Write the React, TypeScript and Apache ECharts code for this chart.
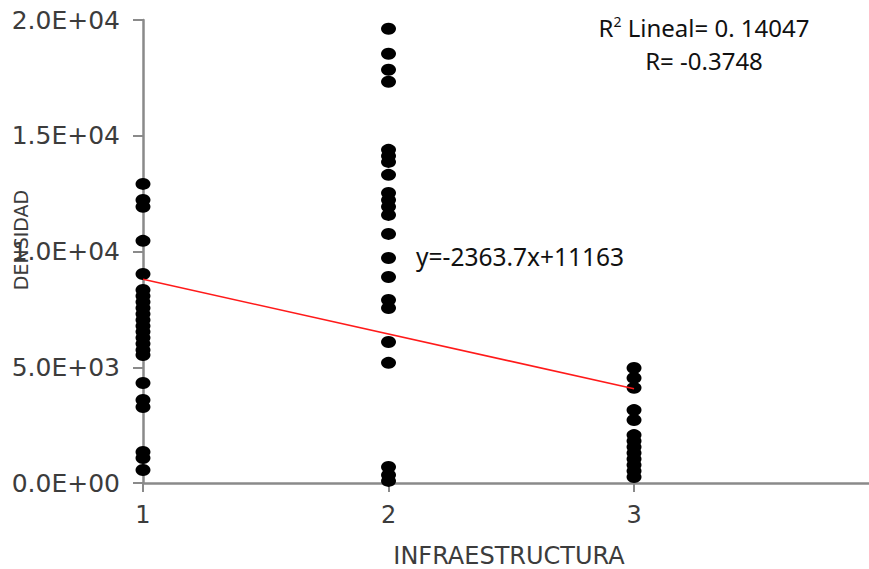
import React, { useEffect, useRef } from "react";
import * as echarts from "echarts";

// Scatter values (DENSIDAD by INFRAESTRUCTURA level)
const infra1Values = [12920, 12230, 11930, 10460, 9030, 8340, 8080, 7820, 7560, 7300, 7040, 6780, 6530, 6270, 6010, 5750, 5530, 4320, 3590, 3280, 1340, 1080, 560];
const infra2Values = [19620, 18540, 17850, 17330, 14390, 14130, 13870, 13310, 12530, 12230, 11930, 11580, 10760, 9720, 8900, 7910, 7560, 6090, 5190, 690, 350, 90];
const infra3Values = [4970, 4540, 4110, 3150, 2720, 2070, 1810, 1560, 1300, 1040, 780, 520, 260];

const xTicks = [1, 2, 3];
const yTicks = [0, 5000, 10000, 15000, 20000];

const X_TITLE = "INFRAESTRUCTURA";
const Y_TITLE = "DENSIDAD";

const SLOPE = -2363.7;
const INTERCEPT = 11163;
const R2 = "0. 14047";
const R = "-0.3748";

const fmtSci = (v: number) => {
  if (v === 0) return "0.0E+00";
  const e = Math.floor(Math.log10(Math.abs(v)));
  const m = v / Math.pow(10, e);
  return m.toFixed(1) + "E+" + String(e).padStart(2, "0");
};

export default function App() {
  const ref = useRef<HTMLDivElement>(null);
  useEffect(() => {
    if (!ref.current) return;
    const chart = echarts.init(ref.current, undefined, { renderer: "svg" });
    const points: number[][] = [];
    infra1Values.forEach((v) => points.push([1, v]));
    infra2Values.forEach((v) => points.push([2, v]));
    infra3Values.forEach((v) => points.push([3, v]));
    const lineData = [1, 3].map((x) => [x, SLOPE * x + INTERCEPT]);
    const axisColor = "#8a8a8a";
    const labelFont = "'DejaVu Sans', Verdana, sans-serif";
    const noteFont = "'Noto Sans', sans-serif";
    chart.setOption({
      animation: false,
      backgroundColor: "#ffffff",
      grid: { left: 143, right: 0, top: 20, bottom: 86, containLabel: false, outerBoundsMode: "none" },
      xAxis: {
        type: "value",
        min: 1,
        max: 3.957,
        interval: 1,
        name: X_TITLE,
        nameLocation: "middle",
        nameGap: 61,
        nameTextStyle: { fontFamily: labelFont, fontSize: 24, color: "#3c3c3c", padding: [0, 0, 0, 6] },
        axisLine: { lineStyle: { color: axisColor, width: 2.5 } },
        axisTick: { show: true, length: 9, customValues: xTicks, lineStyle: { color: axisColor, width: 2 } },
        axisLabel: { customValues: xTicks, margin: 20, fontFamily: labelFont, fontSize: 24, color: "#3c3c3c", formatter: (v: number) => String(v) },
        splitLine: { show: false },
      },
      yAxis: {
        type: "value",
        min: 0,
        max: 20000,
        interval: 5000,
        axisLine: { show: true, lineStyle: { color: axisColor, width: 2.5 } },
        axisTick: { show: true, length: 10, customValues: yTicks, lineStyle: { color: axisColor, width: 2 } },
        axisLabel: { customValues: yTicks, margin: 23, fontFamily: labelFont, fontSize: 25, color: "#3c3c3c", formatter: (v: number) => fmtSci(v) },
        splitLine: { show: false },
      },
      series: [
        {
          type: "line",
          data: lineData,
          symbol: "none",
          lineStyle: { color: "#ff1a1a", width: 1.6 },
          z: 3,
        },
        {
          type: "scatter",
          data: points,
          symbol: "circle",
          symbolSize: [15, 12],
          itemStyle: { color: "#000000", opacity: 1 },
          z: 2,
        },
      ],
      graphic: [
        {
          type: "text",
          x: 21,
          y: 240,
          rotation: Math.PI / 2,
          z: 10,
          style: {
            text: Y_TITLE,
            align: "center",
            verticalAlign: "middle",
            fontFamily: labelFont,
            fontSize: 19,
            fill: "#3c3c3c",
          },
        },
        {
          type: "text",
          x: 704,
          y: 14,
          style: {
            text: "{r|R}{s|2}{r| Lineal= " + R2 + "}",
            align: "center",
            verticalAlign: "top",
            rich: {
              r: { fontFamily: noteFont, fontSize: 24, fill: "#111111" },
              s: { fontFamily: noteFont, fontSize: 14, fill: "#111111", verticalAlign: "top", padding: [0, 0, 12, 0] },
            },
          },
        },
        {
          type: "text",
          x: 704,
          y: 48,
          style: { text: "R= " + R, align: "center", verticalAlign: "top", fontFamily: noteFont, fontSize: 24, fill: "#111111" },
        },
        {
          type: "text",
          x: 416,
          y: 256,
          style: {
            text: "y=" + SLOPE + "x+" + INTERCEPT,
            align: "left",
            verticalAlign: "middle",
            fontFamily: noteFont,
            fontSize: 24.5,
            fill: "#111111",
          },
        },
      ],
    });
    return () => chart.dispose();
  }, []);
  return (
    <div
      ref={ref}
      style={{ position: "fixed", left: 0, top: 0, width: 869, height: 569, background: "#fff" }}
    />
  );
}
